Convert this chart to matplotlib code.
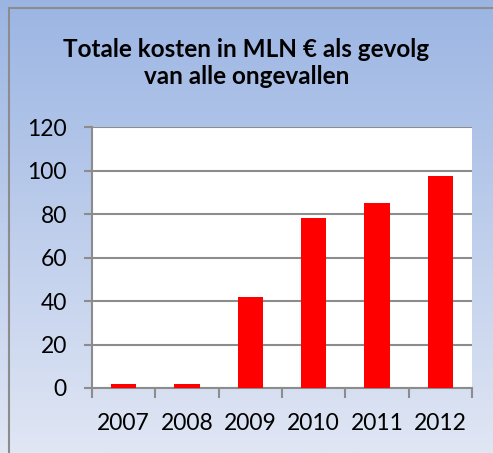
import matplotlib
matplotlib.use('Agg')
import matplotlib.pyplot as plt
import numpy as np
from matplotlib.patches import Rectangle

years = ['2007', '2008', '2009', '2010', '2011', '2012']
costs = [2, 2, 42, 78, 85, 97.5]

plt.rcParams['font.family'] = ['Lato', 'DejaVu Sans']

fig = plt.figure(figsize=(4.93, 4.53), dpi=100)

# gradient background
bg = fig.add_axes([0, 0, 1, 1], zorder=0)
top = np.array([0x9b, 0xb5, 0xe3]) / 255
bot = np.array([0xe0, 0xe6, 0xf4]) / 255
t = np.linspace(0, 1, 256)[:, None]
grad = top * (1 - t) + bot * t
bg.imshow(grad[:, None, :].repeat(2, axis=1), aspect='auto', extent=[0, 1, 0, 1])
bg.add_patch(Rectangle((9 / 493, -0.1), 1.2, 1 - 8 / 453 + 0.1, fill=False,
                       edgecolor='#8c8c8c', lw=1.5, transform=bg.transAxes))
bg.set_xlim(0, 1)
bg.set_ylim(0, 1)
bg.axis('off')

ax = fig.add_axes([92 / 493, 1 - 388 / 453, 380 / 493, 261 / 453], zorder=1)
x = np.arange(len(years))
ax.bar(x, costs, width=0.4, color='#ff0000', zorder=3)
ax.set_xlim(-0.5, len(years) - 0.5)
ax.set_ylim(0, 120)
ax.set_yticks(range(0, 121, 20))
ax.yaxis.grid(True, color='#8c8c8c', lw=1.5, zorder=0)
ax.set_axisbelow(True)

ax.set_xticks(x)
ax.set_xticklabels(years, fontsize=16.5)
ax.set_xticks(np.arange(-0.5, len(years)), minor=True)
ax.tick_params(axis='x', which='major', length=0, pad=18)
ax.tick_params(axis='x', which='minor', length=7, width=1.5, color='#8c8c8c', direction='out')
ax.tick_params(axis='y', length=6, width=1.5, color='#8c8c8c', labelsize=16.5, pad=12)

for s in ['top', 'right']:
    ax.spines[s].set_visible(False)
for s in ['left', 'bottom']:
    ax.spines[s].set_color('#8c8c8c')
    ax.spines[s].set_linewidth(1.5)

fig.text(0.5, 1 - 63 / 453, 'Totale kosten in MLN € als gevolg\nvan alle ongevallen',
         ha='center', va='center', fontsize=17.5, fontweight='bold', linespacing=1.25)

fig.savefig('out.png', dpi=100)
